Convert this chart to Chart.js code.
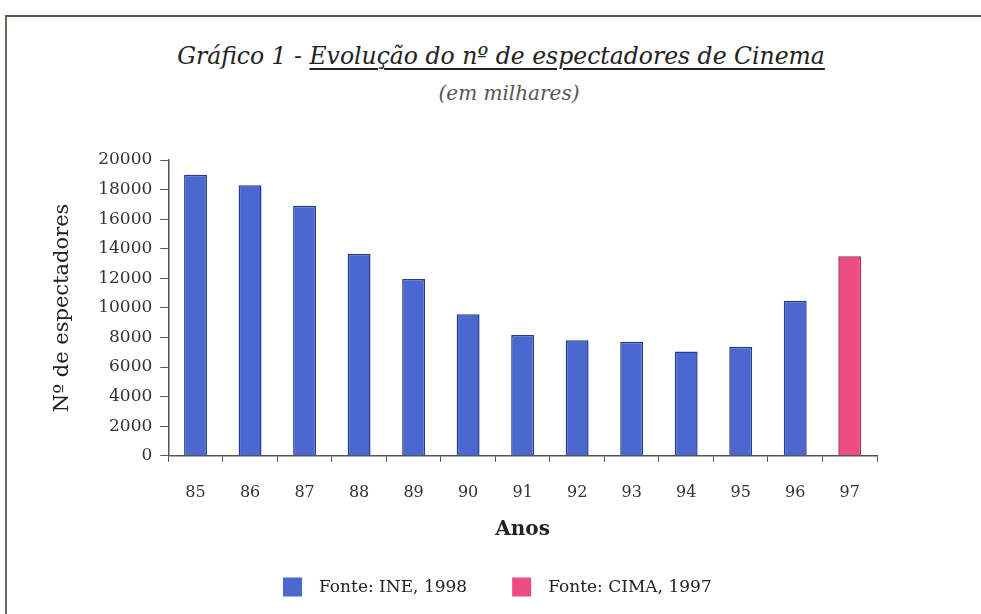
<!DOCTYPE html>
<html>
<head>
<meta charset="utf-8">
<script src="https://cdn.jsdelivr.net/npm/chart.js@4"></script>
<style>
  html, body { margin: 0; padding: 0; background: #fff; }
  #wrap { position: relative; width: 981px; height: 614px; overflow: hidden; }
  #frame { position: absolute; left: 5px; top: 15px; width: 990px; height: 620px;
           border-top: 2px solid #5a5a48; border-left: 2px solid #6a6a60; }
  #title { position: absolute; left: 0; width: 1002px; top: 42px; text-align: center;
           font-family: "DejaVu Serif", serif; font-style: italic; font-size: 23.5px; color: #222; }
  #title u { text-underline-offset: 4px; text-decoration-thickness: 2px; }
  #sub { position: absolute; left: 0; width: 1018px; top: 81px; text-align: center;
         font-family: "DejaVu Serif", serif; font-style: italic; font-size: 20px; color: #555; }
  canvas { position: absolute; left: 0; top: 0; }
</style>
</head>
<body>
<div id="wrap">
  <div id="frame"></div>
  <div id="title">Gráfico 1 - <u>Evolução do nº de espectadores de Cinema</u></div>
  <div id="sub">(em milhares)</div>
  <canvas id="chart" width="981" height="614"></canvas>
</div>
<script>
// anos e espectadores (milhares)
const anos = ['85', '86', '87', '88', '89', '90', '91', '92', '93', '94', '95', '96', '97'];
const ine = [19000, 18300, 16900, 13650, 11950, 9570, 8160, 7820, 7710, 7050, 7370, 10480, null];
const cima = [null, null, null, null, null, null, null, null, null, null, null, null, 13490];
const yTicks = [0, 2000, 4000, 6000, 8000, 10000, 12000, 14000, 16000, 18000, 20000];

const serif = '"DejaVu Serif", serif';

// legenda desenhada à mão, por baixo do título "Anos"
const legendaFonte = {
    id: 'legendaFonte',
    afterDraw(chart) {
        const ctx = chart.ctx;
        const box = 19, gapText = 17, gapItem = 45;
        const y = 587;
        let x = 283;
        ctx.save();
        ctx.font = '17px ' + serif;
        ctx.textBaseline = 'middle';
        chart.data.datasets.forEach((ds, i) => {
            if (i) x += gapItem;
            ctx.fillStyle = ds.backgroundColor;
            ctx.fillRect(x, y - box / 2, box, box);
            x += box + gapText;
            ctx.fillStyle = '#222';
            ctx.fillText(ds.label, x, y + 1);
            x += ctx.measureText(ds.label).width;
        });
        ctx.restore();
    }
};

new Chart(document.getElementById('chart'), {
    type: 'bar',
    data: {
        labels: anos,
        datasets: [{
            label: 'Fonte: INE, 1998',
            data: ine,
            backgroundColor: '#4a68d0',
            borderColor: '#263a8c',
            borderWidth: 1.5,
            barPercentage: 0.42,
            categoryPercentage: 1
        }, {
            label: 'Fonte: CIMA, 1997',
            data: cima,
            backgroundColor: '#ee4b80',
            borderColor: '#9c2a4e',
            borderWidth: 1.5,
            barPercentage: 0.42,
            categoryPercentage: 1
        }]
    },
    plugins: [legendaFonte],
    options: {
        responsive: false,
        animation: false,
        layout: { padding: { top: 160, left: 46, right: 104, bottom: 72 } },
        plugins: {
            tooltip: { enabled: false },
            legend: { display: false }
        },
        scales: {
            x: {
                stacked: true,
                grid: { offset: true, drawOnChartArea: false, tickLength: 6, color: '#555' },
                border: { color: '#555', width: 1.5 },
                ticks: { font: { family: serif, size: 16 }, color: '#333', padding: 21 },
                title: { display: true, text: 'Anos', font: { family: serif, size: 20, weight: 'bold' },
                         color: '#222', padding: { top: -5, bottom: 0 } }
            },
            y: {
                stacked: true,
                min: 0,
                max: 20000,
                afterBuildTicks: (axis) => { axis.ticks = yTicks.map(v => ({ value: v })); },
                grid: { drawOnChartArea: false, tickLength: 8, color: '#555' },
                border: { color: '#555', width: 1.5 },
                ticks: { font: { family: serif, size: 17 }, color: '#333', padding: 8,
                         callback: (v) => String(v) },
                title: { display: true, text: 'Nº de espectadores', font: { family: serif, size: 21 },
                         color: '#222', padding: { bottom: 15 } }
            }
        }
    }
});
</script>
</body>
</html>
